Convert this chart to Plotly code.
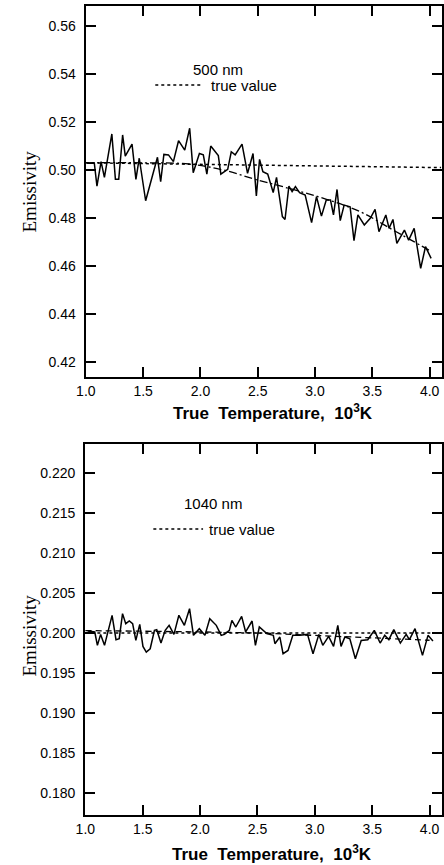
import plotly.graph_objects as go

# ---------------- data: 500 nm panel ----------------
t500 = [1.011, 1.074, 1.097, 1.133, 1.162, 1.227, 1.258, 1.287, 1.321, 1.344,
        1.403, 1.437, 1.466, 1.522, 1.625, 1.653, 1.681, 1.721, 1.764, 1.809,
        1.863, 1.906, 1.937, 1.991, 2.025, 2.056, 2.090, 2.127, 2.156, 2.178,
        2.204, 2.238, 2.269, 2.303, 2.363, 2.411, 2.459, 2.488, 2.516, 2.545,
        2.587, 2.635, 2.664, 2.715, 2.738, 2.772, 2.800, 2.829, 2.865, 2.914,
        2.970, 3.013, 3.056, 3.098, 3.135, 3.161, 3.192, 3.220, 3.254, 3.306,
        3.340, 3.374, 3.430, 3.482, 3.524, 3.558, 3.618, 3.646, 3.680, 3.714,
        3.780, 3.817, 3.865, 3.922, 3.964, 4.013]
e500 = [0.5028, 0.5028, 0.4933, 0.5035, 0.4969, 0.5150, 0.4961, 0.4961, 0.5146, 0.5058,
        0.5108, 0.4961, 0.5049, 0.4872, 0.5053, 0.4951, 0.5065, 0.5063, 0.5035, 0.5122,
        0.5083, 0.5174, 0.4989, 0.5069, 0.5063, 0.4983, 0.5100, 0.5076, 0.5060, 0.4983,
        0.4993, 0.5003, 0.5076, 0.5063, 0.5108, 0.4986, 0.5069, 0.4892, 0.5044, 0.4993,
        0.4983, 0.4906, 0.4969, 0.4806, 0.4794, 0.4933, 0.4910, 0.4931, 0.4906, 0.4896,
        0.4781, 0.4889, 0.4808, 0.4875, 0.4875, 0.4813, 0.4919, 0.4789, 0.4854, 0.4847,
        0.4706, 0.4813, 0.4771, 0.4799, 0.4836, 0.4743, 0.4813, 0.4757, 0.4794, 0.4694,
        0.4750, 0.4708, 0.4757, 0.4590, 0.4681, 0.4632]
true500_t = [1.0, 4.1]
true500_e = [0.5030, 0.5010]
fit500_t = [1.0, 1.5, 1.9, 2.2, 2.5, 2.8, 3.1, 3.4, 3.7, 4.0]
fit500_e = [0.5030, 0.5030, 0.5025, 0.5000, 0.4958, 0.4920, 0.4878, 0.4825, 0.4745, 0.4665]

# ---------------- data: 1040 nm panel ----------------
t1040 = [1.020, 1.082, 1.105, 1.133, 1.167, 1.233, 1.267, 1.295, 1.324, 1.352,
         1.383, 1.412, 1.440, 1.474, 1.502, 1.531, 1.565, 1.602, 1.622, 1.659,
         1.696, 1.730, 1.772, 1.815, 1.863, 1.908, 1.942, 1.993, 2.042, 2.084,
         2.141, 2.184, 2.212, 2.255, 2.277, 2.311, 2.362, 2.397, 2.453, 2.482,
         2.516, 2.547, 2.581, 2.638, 2.652, 2.695, 2.723, 2.766, 2.808, 2.865,
         2.936, 2.984, 3.035, 3.069, 3.120, 3.163, 3.200, 3.228, 3.262, 3.305,
         3.353, 3.404, 3.461, 3.518, 3.569, 3.609, 3.645, 3.688, 3.745, 3.796,
         3.824, 3.873, 3.938, 3.986, 4.029]
e1040 = [0.20025, 0.20013, 0.19846, 0.19983, 0.19846, 0.20221, 0.19917, 0.19929, 0.20242, 0.20117,
         0.20150, 0.20117, 0.19908, 0.20108, 0.19833, 0.19762, 0.19804, 0.20033, 0.20042, 0.19875,
         0.20033, 0.20096, 0.19983, 0.20221, 0.20096, 0.20304, 0.19971, 0.20054, 0.19971, 0.20179,
         0.20096, 0.19971, 0.19983, 0.20033, 0.20158, 0.20075, 0.20208, 0.20013, 0.20150, 0.19846,
         0.20075, 0.20033, 0.19992, 0.19971, 0.19867, 0.19950, 0.19742, 0.19783, 0.19971, 0.19971,
         0.19983, 0.19742, 0.19983, 0.19846, 0.19958, 0.19833, 0.20096, 0.19833, 0.19950, 0.19929,
         0.19679, 0.19908, 0.19917, 0.20033, 0.19875, 0.19971, 0.19917, 0.20042, 0.19875, 0.19983,
         0.19917, 0.20054, 0.19721, 0.19971, 0.19900]
true1040_t = [1.0, 4.05]
true1040_e = [0.2000, 0.2000]
fit1040_t = [1.0, 2.5, 3.0, 3.5, 4.0]
fit1040_e = [0.2003, 0.2000, 0.1997, 0.1994, 0.1991]

x_ticks = [1.0, 1.5, 2.0, 2.5, 3.0, 3.5, 4.0]
y_ticks_top = [0.42, 0.44, 0.46, 0.48, 0.50, 0.52, 0.54, 0.56]
y_ticks_bot = [0.180, 0.185, 0.190, 0.195, 0.200, 0.205, 0.210, 0.215, 0.220]

W, H = 444, 865
SANS = "Liberation Sans, Arial, sans-serif"
SERIF = "Liberation Serif, Times New Roman, serif"

fig = go.Figure()

def add_panel(xa, ya, t, e, tt, te, ft, fe, fitdash):
    fig.add_trace(go.Scatter(x=tt, y=te, mode="lines", xaxis=xa, yaxis=ya,
                             line=dict(color="black", width=1.5, dash="dot"),
                             showlegend=False, hoverinfo="skip"))
    fig.add_trace(go.Scatter(x=ft, y=fe, mode="lines", xaxis=xa, yaxis=ya,
                             line=dict(color="black", width=1.3, dash=fitdash, shape="spline"),
                             showlegend=False, hoverinfo="skip"))
    fig.add_trace(go.Scatter(x=t, y=e, mode="lines", xaxis=xa, yaxis=ya,
                             line=dict(color="black", width=1.5),
                             showlegend=False))

add_panel("x", "y", t500, e500, true500_t, true500_e, fit500_t, fit500_e, "8px,3px,2px,3px")
add_panel("x2", "y2", t1040, e1040, true1040_t, true1040_e, fit1040_t, fit1040_e, "6px,4px")

def px_x(p):
    return p / W

def px_y(p):
    return 1 - p / H

top_dom = [px_y(377), px_y(6)]
bot_dom = [px_y(815), px_y(444)]

axis_common = dict(showline=True, linecolor="black", linewidth=2, mirror="ticks",
                   ticks="inside", ticklen=10, tickwidth=1.5, tickcolor="black",
                   showgrid=False, zeroline=False,
                   tickfont=dict(family=SANS, size=14, color="black"))

fig.update_layout(
    width=W, height=H,
    margin=dict(l=0, r=0, t=0, b=0),
    paper_bgcolor="white", plot_bgcolor="white",
    showlegend=False,
    xaxis=dict(domain=[px_x(78.5), 1.0], range=[0.9975, 4.108], anchor="y",
               tickvals=x_ticks, tickformat=".1f", **axis_common),
    yaxis=dict(domain=top_dom, range=[0.4138, 0.5683], anchor="x",
               tickvals=y_ticks_top, tickformat=".2f", ticklabelstandoff=5, **axis_common),
    xaxis2=dict(domain=[px_x(78.0), 1.0], range=[0.9975, 4.108], anchor="y2",
                tickvals=x_ticks, tickformat=".1f", **axis_common),
    yaxis2=dict(domain=bot_dom, range=[0.1773, 0.22358], anchor="x2",
                tickvals=y_ticks_bot, tickformat=".3f", ticklabelstandoff=5, **axis_common),
)

ann = []
def text(x, y, s, size, family, anchor="left", bold=False, angle=0):
    ann.append(dict(x=px_x(x), y=px_y(y), xref="paper", yref="paper",
                    text=("<b>%s</b>" % s) if bold else s, showarrow=False,
                    xanchor=anchor, yanchor="middle", textangle=angle,
                    font=dict(family=family, size=size, color="black")))

# panel labels and key
text(187, 69, "500 nm", 15, SANS)
text(205, 85, "true value", 15, SANS)
text(177, 503, "1040 nm", 15, SANS)
text(203, 529, "true value", 15, SANS)
# axis titles
text(271, 412, "True  Temperature,  10<sup>3</sup>K", 17, SANS, anchor="center", bold=True)
text(270, 853, "True  Temperature,  10<sup>3</sup>K", 17, SANS, anchor="center", bold=True)
text(20, 192, "Emissivity", 19, SERIF, anchor="center", angle=-90)
text(20, 636, "Emissivity", 19, SERIF, anchor="center", angle=-90)
fig.update_layout(annotations=ann)

shapes = []
for (x0, x1, y) in [(150, 198, 85), (148, 199, 529)]:
    shapes.append(dict(type="line", xref="paper", yref="paper",
                       x0=px_x(x0), x1=px_x(x1), y0=px_y(y), y1=px_y(y),
                       line=dict(color="black", width=1.3, dash="dot")))
fig.update_layout(shapes=shapes)

fig.write_html("out.html")
